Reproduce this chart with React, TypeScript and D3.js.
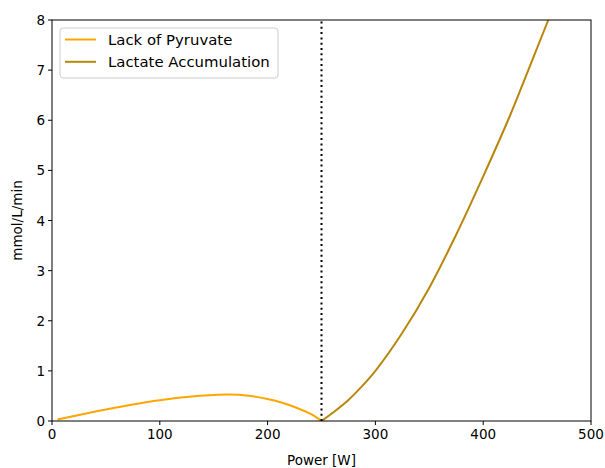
import React from "react";
import * as d3 from "d3";

const pyruvatePower = [5, 25, 50, 75, 100, 125, 150, 165, 180, 200, 215, 225, 240, 250];
const pyruvateValue = [0.03, 0.12, 0.23, 0.33, 0.415, 0.48, 0.518, 0.527, 0.51, 0.44, 0.355, 0.28, 0.14, 0.0];

const lactatePower = [250, 262, 275, 287, 300, 325, 350, 375, 400, 425, 440, 460, 470];
const lactateValue = [0.0, 0.19, 0.42, 0.68, 1.0, 1.76, 2.66, 3.72, 4.88, 6.1, 6.9, 7.98, 8.52];

const xTicks = [0, 100, 200, 300, 400, 500];
const yTicks = [0, 1, 2, 3, 4, 5, 6, 7, 8];
const thresholdPower = 250;

const seriesNames = ["Lack of Pyruvate", "Lactate Accumulation"];
const seriesColors = ["#FFA500", "#B8860B"];

const W = 605;
const H = 468;
const M = { left: 52, right: 591, top: 20, bottom: 421 };
const FONT = "DejaVu Sans, sans-serif";

export default function App() {
  const x = d3.scaleLinear().domain([0, 500]).range([M.left, M.right]);
  const y = d3.scaleLinear().domain([0, 8]).range([M.bottom, M.top]);
  const line = d3
    .line<[number, number]>()
    .x((d) => x(d[0]))
    .y((d) => y(d[1]))
    .curve(d3.curveCatmullRom.alpha(0.5));

  const pyr: [number, number][] = pyruvatePower.map((p, i) => [p, pyruvateValue[i]]);
  const lac: [number, number][] = lactatePower.map((p, i) => [p, lactateValue[i]]);

  return (
    <svg
      width={W}
      height={H}
      style={{ position: "absolute", left: 0, top: 0, background: "#fff" }}
      fontFamily={FONT}
    >
      <defs>
        <clipPath id="plot">
          <rect x={M.left} y={M.top} width={M.right - M.left} height={M.bottom - M.top} />
        </clipPath>
      </defs>
      <g clipPath="url(#plot)">
        <path d={line(pyr) || ""} fill="none" stroke={seriesColors[0]} strokeWidth={2} />
        <path d={line(lac) || ""} fill="none" stroke={seriesColors[1]} strokeWidth={2} />
        <line
          x1={x(thresholdPower)}
          x2={x(thresholdPower)}
          y1={y(0)}
          y2={y(8)}
          stroke="#000"
          strokeWidth={2}
          strokeDasharray="2,3.3"
        />
      </g>
      <rect
        x={M.left}
        y={M.top}
        width={M.right - M.left}
        height={M.bottom - M.top}
        fill="none"
        stroke="#000"
        strokeWidth={1}
      />
      {xTicks.map((t) => (
        <g key={"x" + t}>
          <line x1={x(t)} x2={x(t)} y1={M.bottom} y2={M.bottom + 4} stroke="#000" />
          <text x={x(t)} y={M.bottom + 18} fontSize={13.5} textAnchor="middle" fill="#000">
            {t}
          </text>
        </g>
      ))}
      {yTicks.map((t) => (
        <g key={"y" + t}>
          <line x1={M.left - 4} x2={M.left} y1={y(t)} y2={y(t)} stroke="#000" />
          <text x={M.left - 7} y={y(t) + 5} fontSize={13.5} textAnchor="end" fill="#000">
            {t}
          </text>
        </g>
      ))}
      <text x={(M.left + M.right) / 2} y={465} fontSize={13.5} textAnchor="middle" fill="#000">
        Power [W]
      </text>
      <text
        transform={`translate(22,${(M.top + M.bottom) / 2}) rotate(-90)`}
        fontSize={13.5}
        textAnchor="middle"
        fill="#000"
      >
        mmol/L/min
      </text>
      <g>
        <rect x={60} y={28} width={218} height={50} rx={3} fill="#fff" fillOpacity={0.8} stroke="#ccc" />
        {seriesNames.map((n, i) => (
          <g key={n}>
            <line x1={65} x2={96} y1={39.5 + i * 22.3} y2={39.5 + i * 22.3} stroke={seriesColors[i]} strokeWidth={2} />
            <text x={108} y={45 + i * 22.3} fontSize={14.9} fill="#000">
              {n}
            </text>
          </g>
        ))}
      </g>
    </svg>
  );
}
